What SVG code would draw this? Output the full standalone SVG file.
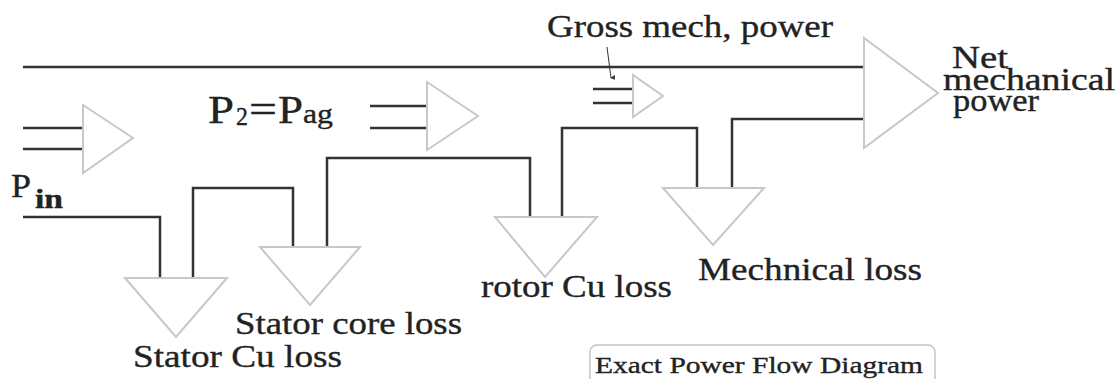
<svg xmlns="http://www.w3.org/2000/svg" width="1118" height="379" viewBox="0 0 1118 379">
<style>
.ln{fill:none;stroke:#333;stroke-width:2.5}
.ah{fill:#fff;stroke:#c8c8c8;stroke-width:2}
.t{font-family:"Liberation Serif","Times New Roman",serif;fill:#222;stroke:#222;stroke-width:0.35}
</style>
<defs>
<marker id="ptr" viewBox="0 0 6 6" refX="3" refY="5" markerWidth="5" markerHeight="5" orient="auto-start-reverse">
<path d="M0,0 L6,0 L3,6 z" fill="#333"/>
</marker>
</defs>
<rect width="1118" height="379" fill="#fff"/>
<g id="connectors">
<path class="ln" d="M23,67 H864"/>
<path class="ln" d="M732,188 V119 H864"/>
<path class="ln" d="M697,188 V128 H562 V217"/>
<path class="ln" d="M530,217 V158 H327 V247"/>
<path class="ln" d="M293,247 V188 H193 V278"/>
<path class="ln" d="M23,217 H160 V278"/>
<path class="ln" d="M23,128 H83 M23,149 H83"/>
<path class="ln" d="M370,106 H427 M370,128 H427"/>
<path class="ln" d="M593,89 H633 M593,103 H633"/>
<path d="M607,47 L611,78" stroke="#333" stroke-width="1" fill="none" marker-end="url(#ptr)"/>
</g>
<g id="arrow-pin"><polygon class="ah" points="83,105 83,173 133,138"/></g>
<g id="arrow-pag"><polygon class="ah" points="427,82 427,150 478,116"/></g>
<g id="arrow-gross"><polygon class="ah" points="633,75 633,117 663,96"/></g>
<g id="arrow-net"><polygon class="ah" points="864,38 864,148 938,93"/></g>
<g id="arrow-statorcu"><polygon class="ah" points="125,278 227,278 176,337"/></g>
<g id="arrow-core"><polygon class="ah" points="260,247 360,247 310,305"/></g>
<g id="arrow-rotor"><polygon class="ah" points="495,217 597,217 545,277"/></g>
<g id="arrow-mech"><polygon class="ah" points="663,188 764,188 713,245"/></g>
<g id="label-pin">
<text class="t" x="11" y="197" font-size="34" textLength="20" lengthAdjust="spacingAndGlyphs">P</text>
<text class="t" x="35" y="208" font-size="27" font-weight="bold" textLength="28" lengthAdjust="spacingAndGlyphs">in</text>
</g>
<g id="label-pag">
<text class="t" x="208" y="123" font-size="40" textLength="26" lengthAdjust="spacingAndGlyphs">P</text>
<text class="t" x="236" y="125" font-size="25" textLength="12" lengthAdjust="spacingAndGlyphs">2</text>
<text class="t" x="249" y="123" font-size="40" textLength="28" lengthAdjust="spacingAndGlyphs">=</text>
<text class="t" x="278" y="123" font-size="40" textLength="25" lengthAdjust="spacingAndGlyphs">P</text>
<text class="t" x="303" y="123" font-size="27" textLength="30" lengthAdjust="spacingAndGlyphs">ag</text>
</g>
<g id="label-gross"><text class="t" x="547" y="37" font-size="32" textLength="286" lengthAdjust="spacingAndGlyphs">Gross mech, power</text></g>
<g id="label-net">
<text class="t" x="952" y="68" font-size="31" textLength="56" lengthAdjust="spacingAndGlyphs">Net</text>
<text class="t" x="943" y="90" font-size="31" textLength="172" lengthAdjust="spacingAndGlyphs">mechanical</text>
<text class="t" x="953" y="111" font-size="31" textLength="86" lengthAdjust="spacingAndGlyphs">power</text>
</g>
<g id="label-statorcu"><text class="t" x="133" y="367" font-size="32" textLength="209" lengthAdjust="spacingAndGlyphs">Stator Cu loss</text></g>
<g id="label-core"><text class="t" x="235" y="334" font-size="32" textLength="227" lengthAdjust="spacingAndGlyphs">Stator core loss</text></g>
<g id="label-rotor"><text class="t" x="481" y="297" font-size="32" textLength="191" lengthAdjust="spacingAndGlyphs">rotor Cu loss</text></g>
<g id="label-mech"><text class="t" x="698" y="280" font-size="32" textLength="224" lengthAdjust="spacingAndGlyphs">Mechnical loss</text></g>
<g id="caption">
<rect x="590" y="345" width="345" height="44" rx="7" fill="#fff" stroke="#c4c4c4" stroke-width="1.5"/>
<text class="t" x="595" y="373" font-size="23" textLength="328" lengthAdjust="spacingAndGlyphs">Exact Power Flow Diagram</text>
</g>
</svg>
